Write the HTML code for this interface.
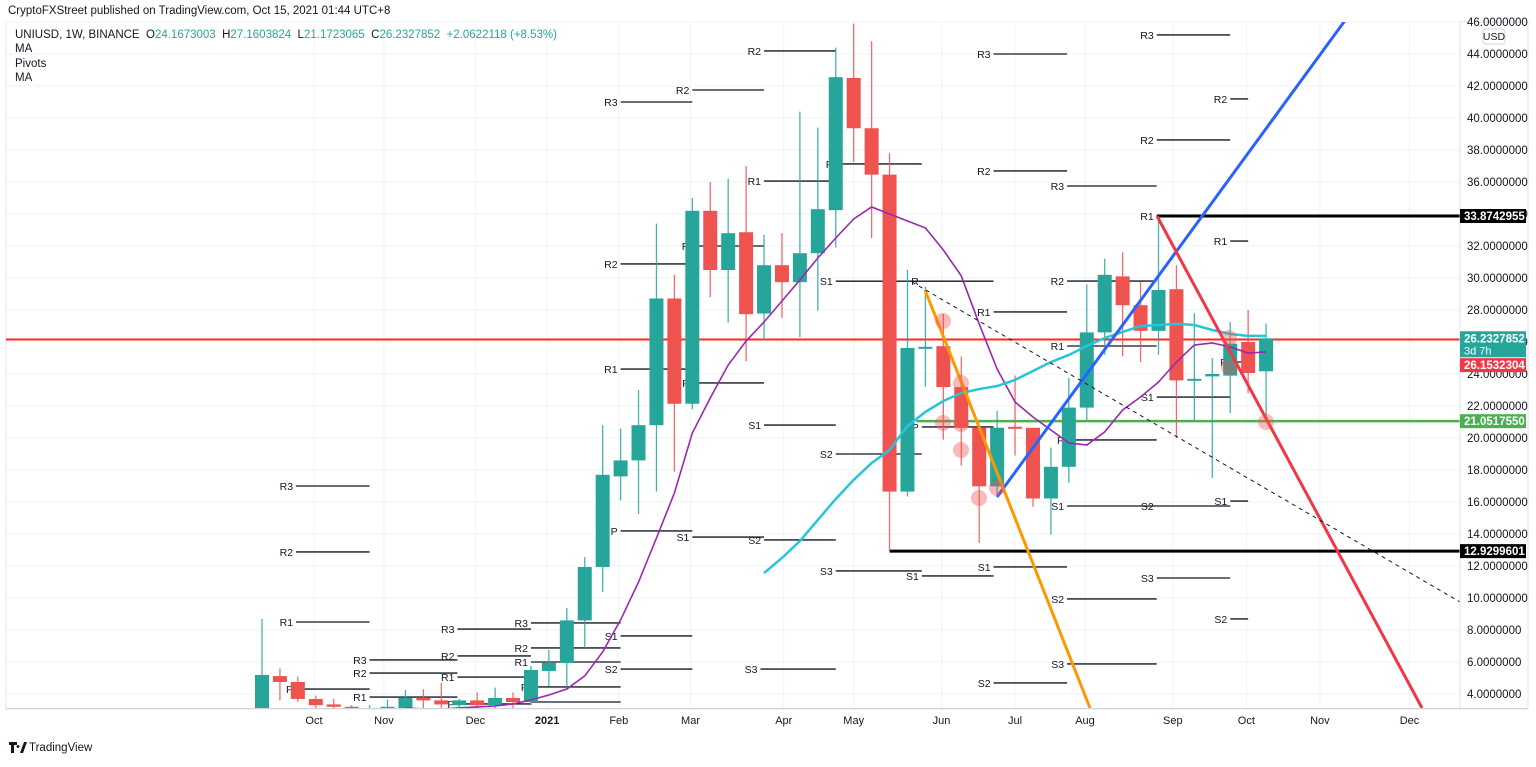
<!DOCTYPE html>
<html><head><meta charset="utf-8"><style>
body{margin:0;background:#fff;width:1536px;height:762px;overflow:hidden;font-family:"Liberation Sans",sans-serif}
svg text{font-family:"Liberation Sans",sans-serif}
.pre{white-space:pre}
</style></head><body>
<svg id="chart" width="1536" height="762" viewBox="0 0 1536 762" xmlns="http://www.w3.org/2000/svg">
<text x="8" y="14" font-size="11.5" fill="#131722">CryptoFXStreet published on TradingView.com, Oct 15, 2021 01:44 UTC+8</text>
<rect x="6" y="22" width="1522" height="687" fill="none" stroke="#e0e3eb"/>
<g id="grid"></g>
<g id="plot" clip-path="url(#clip)"></g>
<defs><clipPath id="clip"><rect x="6" y="22" width="1454" height="686"/></clipPath></defs>
<line x1="1460" y1="22" x2="1460" y2="709" stroke="#e0e3eb"/>
<line x1="6" y1="708.5" x2="1528" y2="708.5" stroke="#d1d4dc"/>
<g id="yaxis"></g>
<g id="xaxis"></g>
<g><rect x="1483" y="29" width="22" height="15" rx="3" fill="#fff" stroke="#d1d4dc"/><text x="1494" y="40" font-size="10.5" text-anchor="middle" fill="#131722">USD</text></g>
<g font-size="11.5">
<text class="pre" x="15" y="38" fill="#131722">UNIUSD, 1W, BINANCE  O<tspan fill="#26a69a">24.1673003</tspan>  H<tspan fill="#26a69a">27.1603824</tspan>  L<tspan fill="#26a69a">21.1723065</tspan>  C<tspan fill="#26a69a">26.2327852  +2.0622118 (+8.53%)</tspan></text>
<text x="15" y="52" fill="#131722">MA</text>
<text x="15" y="67" fill="#131722">Pivots</text>
<text x="15" y="81" fill="#131722">MA</text>
</g>
<g><path d="M9 742h8v3h-3v8h-3v-8h-2z M18 745a1.5 1.5 0 1 0 0.01 0z M20 753l4-11h3l-4 11z" fill="#131722"/><text x="29" y="751" font-size="11.5" fill="#131722">TradingView</text></g>
<g id="tags"></g>
</svg>
<script>
const opens=[3.06,5.12,4.75,3.69,3.35,3.2,3.0,3.05,3.06,3.75,3.6,3.3,3.6,3.3,3.75,3.5,5.44,5.94,8.6,11.94,17.6,18.6,20.8,28.72,22.14,34.2,30.5,32.86,27.78,30.8,29.74,31.55,34.24,42.5,39.36,36.46,16.65,25.6,25.74,23.18,20.64,16.98,20.7,20.64,16.22,18.2,21.9,26.6,30.1,28.3,26.7,29.3,23.6,23.85,23.9,26.0,24.17];
const highs=[8.69,5.6,5.1,3.9,3.7,3.3,3.3,3.65,4.25,4.3,4.7,3.7,4.1,4.4,4.1,5.75,6.75,9.38,12.56,20.8,20.6,23.0,33.4,30.2,35.0,36.0,36.2,37.0,32.7,32.8,40.4,39.4,44.4,45.9,44.8,37.8,30.5,29.46,27.75,25.1,20.64,21.7,23.9,20.64,19.4,23.75,29.6,31.2,31.6,29.75,33.8,30.8,27.8,25.0,27.25,28.0,27.16];
const lows=[2.8,3.6,3.5,2.9,2.9,2.9,2.9,2.9,2.9,3.0,3.13,3.1,2.9,2.9,2.9,3.3,4.5,4.25,6.88,10.38,16.1,15.25,16.65,17.9,21.8,28.8,27.2,24.8,26.1,27.5,26.3,27.96,31.9,37.25,32.5,12.93,16.34,23.2,19.9,18.27,13.44,16.44,18.9,15.7,13.97,17.2,21.1,25.2,25.1,24.75,25.2,20.0,21.1,17.5,21.56,22.8,21.17];
const closes=[5.19,4.75,3.69,3.3,3.2,3.0,3.1,3.2,3.75,3.6,3.35,3.6,3.3,3.75,3.5,5.5,5.94,8.6,11.94,17.7,18.6,20.8,28.72,22.14,34.2,30.5,32.8,27.74,30.8,29.74,31.55,34.3,42.55,39.36,36.46,16.65,25.63,25.7,23.18,20.64,16.98,20.64,20.64,16.22,18.2,21.9,26.6,30.2,28.3,26.7,29.25,23.6,23.7,24.0,25.9,24.06,26.23];
const maFastStart=8;
const maFast=[3.13,3.06,3.06,3.13,3.19,3.25,3.38,3.63,3.94,4.31,5.13,6.63,8.63,11.0,13.75,16.56,20.31,22.5,24.56,26.06,27.25,28.56,29.88,31.25,32.5,33.69,34.44,34.0,33.56,33.13,31.75,30.13,27.13,24.31,22.25,21.31,20.5,19.69,19.56,20.38,21.75,22.56,23.5,24.75,25.81,25.94,25.69,25.31,25.38];
const maSlowStart=28;
const maSlow=[11.56,12.5,13.56,14.88,16.19,17.38,18.44,19.25,20.75,21.63,22.31,22.81,23.06,23.25,23.63,24.19,24.75,25.19,25.75,26.25,26.63,27.0,27.06,27.13,27.06,26.75,26.5,26.38,26.38];
const yTicks=[4,6,8,10,12,14,16,18,20,22,24,26,28,30,32,34,36,38,40,42,44,46];
const monthLabels=["Oct","Nov","Dec","2021","Feb","Mar","Apr","May","Jun","Jul","Aug","Sep","Oct","Nov","Dec"];
const monthIdx=[2.9,6.8,11.9,15.9,19.9,23.9,29.1,33.0,37.9,42.0,45.9,50.8,54.9,59.0,64.0];
const pivots=[["R3",1.9,6,17.0],["R2",1.9,6,12.88],["R1",1.9,6,8.5],["P",1.9,6,4.31],
["R3",6,10.9,6.13],["R2",6,10.9,5.31],["R1",6,10.9,3.81],
["R3",10.9,15,8.06],["R2",10.9,15,6.38],["R1",10.9,15,5.06],["P",10.9,15,3.38],
["R3",15,20,8.44],["R2",15,20,6.88],["R1",15,20,6.0],["P",15,20,4.44],["",15,20,3.5],
["R3",20,24,41.0],["R2",20,24,30.88],["R1",20,24,24.31],["P",20,24,14.19],["S1",20,24,7.63],["S2",20,24,5.56],
["R2",24,28,41.75],["R",24,28,32.0],["P",24,28,23.44],["S1",24,28,13.81],["S3",27.8,32,5.56],
["R2",28,32,44.19],["R1",28,32,36.06],["S1",28,32,20.81],["S2",28,32,13.63],
["P",32,36.8,37.13],["S1",32,36.8,29.8],["S2",32,36.8,19.0],["S3",32,36.8,11.69],
["R",36.8,40.8,29.8],["P",36.8,40.8,20.69],["S1",36.8,40.8,11.38],
["R3",40.8,44.9,44.0],["R2",40.8,44.9,36.69],["R1",40.8,44.9,27.88],["S1",40.8,44.9,11.94],["S2",40.8,44.9,4.69],
["R3",44.9,49.9,35.75],["R2",44.9,49.9,29.81],["R1",44.9,49.9,25.75],["P",44.9,49.9,19.88],["S1",44.9,49.9,15.75],["S2",44.9,49.9,9.94],["S3",44.9,49.9,5.88],
["R3",49.9,54,45.19],["R2",49.9,54,38.63],["R1",49.9,54,33.87],["S1",49.9,54,22.56],["S2",49.9,54,15.75],["S3",49.9,54,11.25],
["R2",54,55,41.19],["R1",54,55,32.31],["P",54,55,24.75],["S1",54,55,16.06],["S2",54,55,8.69]];
const levels=[[33.8742955,"#000","33.8742955",49.9],[12.9299601,"#000","12.9299601",35]];
const NS="http://www.w3.org/2000/svg";
const X=i=>262+17.93*i, Y=v=>758-16*v;
function mk(p,t,a){const e=document.createElementNS(NS,t);for(const k in a)e.setAttribute(k,a[k]);p.appendChild(e);return e;}
const grid=document.getElementById('grid'),plot=document.getElementById('plot'),ya=document.getElementById('yaxis'),xa=document.getElementById('xaxis'),tags=document.getElementById('tags');
yTicks.forEach(v=>{const l=mk(grid,'line',{x1:6,x2:1460,y1:Y(v),y2:Y(v),stroke:'#f0f3fa'});


const t=mk(ya,'text',{x:1467,y:Y(v)+4,'font-size':11.5,fill:'#131722'});t.textContent=v.toFixed(7);

});
monthLabels.forEach((m,k)=>{const x=X(monthIdx[k]);const l=mk(grid,'line',{x1:x,x2:x,y1:22,y2:708,stroke:'#f0f3fa'});


const t=mk(xa,'text',{x:x,y:724,'font-size':11,fill:'#131722','text-anchor':'middle','font-weight':m==='2021'?'bold':'normal'});t.textContent=m;

});
pivots.forEach(p=>{const x1=X(p[1]),x2=X(p[2]),y=Y(p[3]);const l=mk(plot,'line',{x1:x1,x2:x2,y1:y,y2:y,stroke:'#131722','stroke-width':1.3});


if(p[0]){const t=mk(plot,'text',{x:x1-3,y:y+4,'font-size':10.5,fill:'#131722','text-anchor':'end'});t.textContent=p[0];

}});
mk(plot,'line',{x1:6,x2:1460,y1:Y(26.1532304),y2:Y(26.1532304),stroke:'#ff2a1a','stroke-width':2});
mk(plot,'line',{x1:X(36.5),x2:1460,y1:Y(21.051755),y2:Y(21.051755),stroke:'#4caf50','stroke-width':2.5});
levels.forEach(l=>{const e=mk(plot,'line',{x1:X(l[3]),x2:1460,y1:Y(l[0]),y2:Y(l[0]),stroke:l[1],'stroke-width':3});

});
opens.forEach((o,i)=>{const c=closes[i],up=c>=o,col=up?'#26a69a':'#ef5350',x=X(i);
const g=mk(plot,'g',{});


mk(g,'line',{x1:x,x2:x,y1:Y(highs[i]),y2:Y(lows[i]),stroke:col,'stroke-width':1.3,opacity:0.85});
const t=Y(Math.max(o,c)),b=Y(Math.min(o,c));mk(g,'rect',{x:x-7,y:t,width:14,height:Math.max(b-t,2),fill:col});});
function poly(arr,start,col,w,name){const pts=arr.map((v,k)=>X(start+k)+','+Y(v)).join(' ');const e=mk(plot,'polyline',{points:pts,fill:'none',stroke:col,'stroke-width':w});

}
poly(maFast,maFastStart,'#9c27b0',1.6,'ma-fast-line');
poly(maSlow,maSlowStart,'#26c6da',2.5,'ma-slow-line');
const tl=[[997,497,1360,0,'#2962ff',3,'blue-trendline',''],[1157,216,1422,708,'#f23645',3,'red-trendline',''],[925,290,1090,708,'#ff9800',3,'orange-trendline',''],[912,282,1460,602,'#131722',1,'dashed-trendline','4,4']];
tl.forEach(d=>{const e=mk(plot,'line',{x1:d[0],y1:d[1],x2:d[2],y2:d[3],stroke:d[4],'stroke-width':d[5],'stroke-dasharray':d[7]});

});
[[943,321],[961,383],[943,423],[961,424],[961,450],[979,498],[997,488],[1229,338],[1229,367],[1266,422]].forEach(p=>{const e=mk(plot,'circle',{cx:p[0],cy:p[1],r:8,fill:'rgba(239,83,80,0.4)'});

});
[[33.8742955,'#000','33.8742955'],[26.2327852,'#26a69a','26.2327852'],[26.1532304-1.6,'#f23645','26.1532304'],[21.051755,'#4caf50','21.0517550'],[12.9299601,'#000','12.9299601']].forEach(t=>{const y=Y(t[0]);
const g=mk(tags,'g',{});


const h=t[2]==='26.2327852'?26:14;mk(g,'rect',{x:1460,y:y-7,width:66,height:h,fill:t[1]});
const tx=mk(g,'text',{x:1464,y:y+4,'font-size':11.5,fill:'#fff','font-weight':'bold'});tx.textContent=t[2];
if(h>14){const s=mk(g,'text',{x:1464,y:y+16,'font-size':11,fill:'#fff'});s.textContent='3d 7h';}});
</script>
</body></html>
